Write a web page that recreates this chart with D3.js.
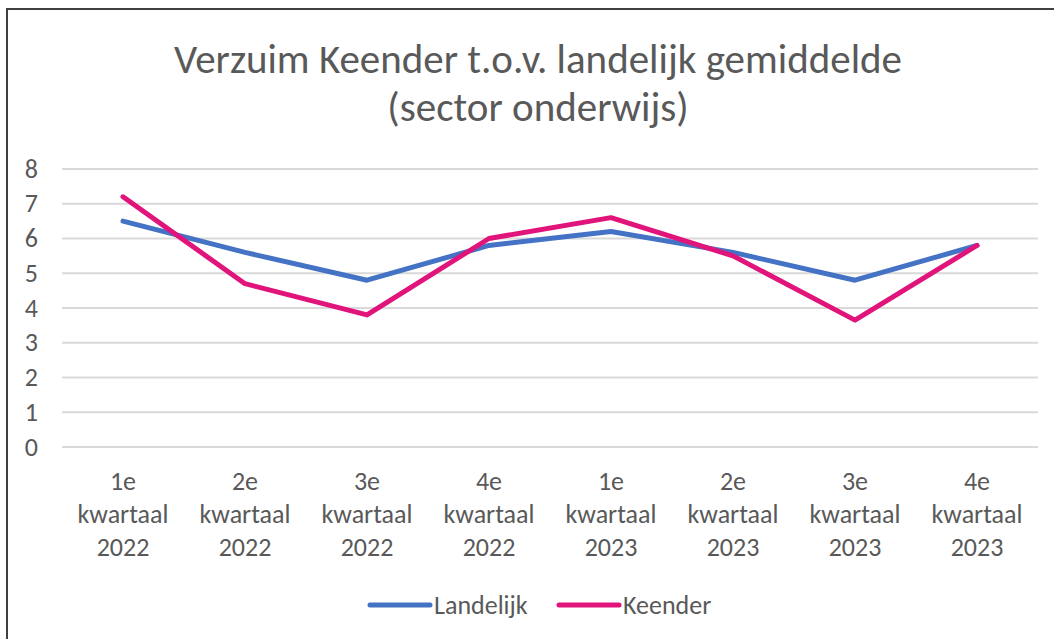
<!DOCTYPE html>
<html>
<head>
<meta charset="utf-8">
<script src="https://cdn.jsdelivr.net/npm/d3@7"></script>
<style>
  body { margin: 0; background: #fff; }
  svg { display: block; font-family: Carlito, Lato, sans-serif; }
</style>
</head>
<body>
<div id="chart"></div>
<script>
// data
let categories = ["1e|kwartaal|2022", "2e|kwartaal|2022", "3e|kwartaal|2022", "4e|kwartaal|2022",
                  "1e|kwartaal|2023", "2e|kwartaal|2023", "3e|kwartaal|2023", "4e|kwartaal|2023"];
let landelijk = [6.5, 5.6, 4.8, 5.8, 6.2, 5.6, 4.8, 5.8];
let keender = [7.2, 4.7, 3.8, 6.0, 6.6, 5.5, 3.65, 5.8];
let yTicks = [0, 1, 2, 3, 4, 5, 6, 7, 8];
let titleLines = ["Verzuim Keender t.o.v. landelijk gemiddelde", "(sector onderwijs)"];

let series = [
	{ name: "Landelijk", values: landelijk, color: "#4472C4" },
	{ name: "Keender", values: keender, color: "#E0147A" }
];

let width = 1054, height = 639;
let margin = { top: 169, right: 16, bottom: 192, left: 62 };
let textColor = "#595959";

let svg = d3.select("#chart").append("svg")
	.attr("width", width)
	.attr("height", height);

// chart frame (only top and left edges visible in the crop)
svg.append("rect")
	.attr("x", 7)
	.attr("y", 9)
	.attr("width", width + 20)
	.attr("height", height + 20)
	.attr("fill", "none")
	.attr("stroke", "#404040")
	.attr("stroke-width", 2);

// title
svg.append("text")
	.attr("x", 538)
	.attr("y", 73)
	.attr("text-anchor", "middle")
	.attr("fill", textColor)
	.attr("font-size", 41)
	.selectAll("tspan")
	.data(titleLines)
	.enter()
	.append("tspan")
	.attr("x", 538)
	.attr("dy", (d, i) => i == 0 ? 0 : 48)
	.text(d => d);

let x = d3.scaleBand()
	.domain(categories)
	.range([margin.left, width - margin.right]);

let y = d3.scaleLinear()
	.domain([0, 8])
	.range([height - margin.bottom, margin.top]);

// gridlines
svg.append("g")
	.selectAll("line")
	.data(yTicks)
	.enter()
	.append("line")
	.attr("x1", margin.left)
	.attr("x2", width - margin.right)
	.attr("y1", d => y(d))
	.attr("y2", d => y(d))
	.attr("stroke", "#D9D9D9")
	.attr("stroke-width", 2);

// y labels
svg.append("g")
	.selectAll("text")
	.data(yTicks)
	.enter()
	.append("text")
	.attr("x", 38)
	.attr("y", d => y(d))
	.attr("dy", "0.33em")
	.attr("text-anchor", "end")
	.attr("fill", textColor)
	.attr("font-size", 26)
	.text(d => d);

// x labels, three lines each
let xLab = svg.append("g")
	.selectAll("text")
	.data(categories)
	.enter()
	.append("text")
	.attr("text-anchor", "middle")
	.attr("fill", textColor)
	.attr("font-size", 26)
	.attr("y", 490);

xLab.selectAll("tspan")
	.data(d => d.split("|").map(t => ({ cat: d, t: t })))
	.enter()
	.append("tspan")
	.attr("x", d => x(d.cat) + x.bandwidth() / 2)
	.attr("dy", (d, i) => i == 0 ? 0 : 33)
	.text(d => d.t);

// lines
let line = d3.line()
	.x((d, i) => x(categories[i]) + x.bandwidth() / 2)
	.y(d => y(d));

svg.append("g")
	.selectAll("path")
	.data(series)
	.enter()
	.append("path")
	.attr("d", d => line(d.values))
	.attr("fill", "none")
	.attr("stroke", d => d.color)
	.attr("stroke-width", 5)
	.attr("stroke-linejoin", "round")
	.attr("stroke-linecap", "round");

// legend
let legendX = [370, 559];
let legend = svg.append("g")
	.selectAll("g")
	.data(series)
	.enter()
	.append("g")
	.attr("transform", (d, i) => "translate(" + legendX[i] + ",605)");

legend.append("line")
	.attr("x1", 0)
	.attr("x2", 60)
	.attr("stroke", d => d.color)
	.attr("stroke-width", 5)
	.attr("stroke-linecap", "round");

legend.append("text")
	.attr("x", 64)
	.attr("dy", "0.33em")
	.attr("fill", textColor)
	.attr("font-size", 26)
	.text(d => d.name);
</script>
</body>
</html>
